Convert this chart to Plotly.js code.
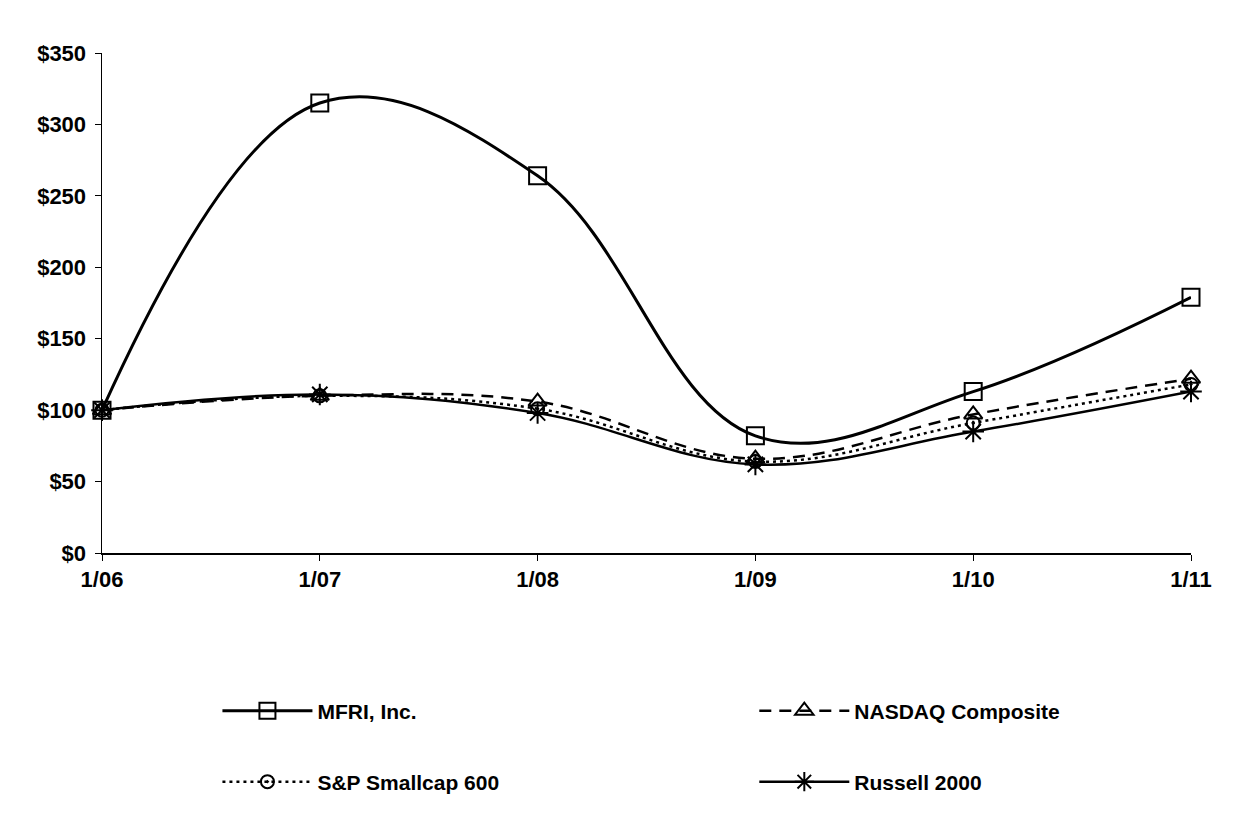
<!DOCTYPE html>
<html>
<head>
<meta charset="utf-8">
<script src="https://cdn.plot.ly/plotly-3.0.1.min.js"></script>
<style>
  html, body { margin: 0; padding: 0; background: #fff; }
  #plot { width: 1235px; height: 816px; }
</style>
</head>
<body>
<div id="plot"></div>
<script>
const years = ['1/06', '1/07', '1/08', '1/09', '1/10', '1/11'];
const mfri = [100, 315, 264, 82, 113, 179];
const nasdaq = [100, 110, 106, 66, 97, 122];
const smallcap = [100, 110, 101, 64, 91, 118];
const russell = [100, 111, 98, 62, 85, 113];
const yTicks = [0, 50, 100, 150, 200, 250, 300, 350];
const yTickLabels = yTicks.map(v => '$' + v);

const FONT = 'Liberation Sans, Arial, sans-serif';

function series(name, y, dash, symbol, size, legend) {
  return {
    x: years,
    y: y,
    name: name,
    type: 'scatter',
    mode: 'lines+markers',
    cliponaxis: false,
    legend: legend,
    line: { color: '#000', width: 2.5, dash: dash, shape: 'spline', smoothing: 1.1 },
    marker: { symbol: symbol, size: size, color: '#000', line: { color: '#000', width: 2 } }
  };
}

const data = [
  series('MFRI, Inc.', mfri, 'solid', 'square-open', 17, 'legend'),
  series('NASDAQ Composite', nasdaq, '12px,8px', 'triangle-up-open', 16, 'legend2'),
  series('S&P Smallcap 600', smallcap, '3px,4px', 'circle-open-dot', 13, 'legend3'),
  series('Russell 2000', russell, 'solid', 'asterisk-open', 18, 'legend4')
];
data[0].line.width = 3;

// one legend per entry, placed on a 2x2 grid below the plot
function legendAt(x, y) {
  return {
    x: x,
    y: y,
    xanchor: 'left',
    yanchor: 'middle',
    itemwidth: 90,
    bgcolor: 'rgba(0,0,0,0)',
    font: { family: FONT, size: 21, color: '#000', weight: 'bold' }
  };
}

const tickFont = { family: FONT, size: 22, color: '#000', weight: 'bold' };

const layout = {
  width: 1235,
  height: 816,
  margin: { l: 102, r: 44, t: 53, b: 263 },
  paper_bgcolor: '#fff',
  plot_bgcolor: '#fff',
  font: { family: FONT, color: '#000' },
  xaxis: {
    type: 'category',
    range: [0, 5],
    showline: true,
    linecolor: '#000',
    linewidth: 1.5,
    ticks: 'outside',
    ticklen: 6,
    tickcolor: '#000',
    showgrid: false,
    zeroline: false,
    tickfont: tickFont
  },
  yaxis: {
    range: [0, 350],
    tickvals: yTicks,
    ticktext: yTickLabels,
    showline: true,
    linecolor: '#000',
    linewidth: 1.5,
    ticks: 'outside',
    ticklen: 6,
    ticklabelstandoff: 4,
    tickcolor: '#000',
    showgrid: false,
    zeroline: false,
    tickfont: tickFont
  },
  legend: legendAt(0.106, -0.316),
  legend2: legendAt(0.599, -0.316),
  legend3: legendAt(0.106, -0.458),
  legend4: legendAt(0.599, -0.458),
  showlegend: true
};

Plotly.newPlot('plot', data, layout, { displayModeBar: false, staticPlot: true });
</script>
</body>
</html>
